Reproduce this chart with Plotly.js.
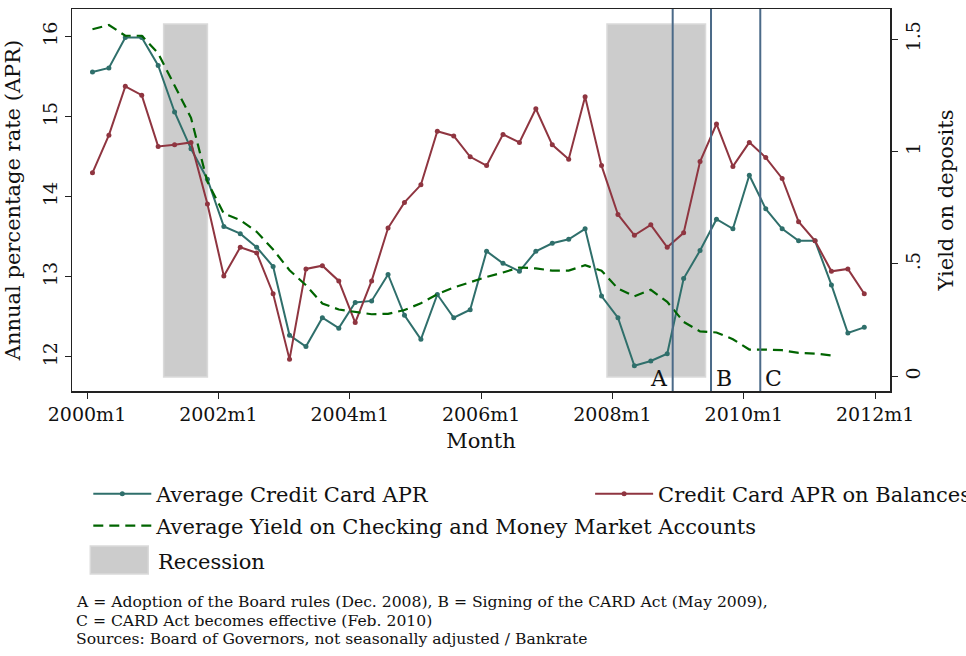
<!DOCTYPE html>
<html>
<head>
<meta charset="utf-8">
<script src="https://cdn.plot.ly/plotly-3.0.1.min.js"></script>
<style>html,body{margin:0;padding:0;background:#fff;}#chart{width:966px;height:656px;}</style>
</head>
<body>
<div id="chart"></div>
<script>
// Month index: 0 = 2000m1
const months = [1,4,7,10,13,16,19,22,25,28,31,34,37,40,43,46,49,52,55,58,61,64,67,70,73,76,79,82,85,88,91,94,97,100,103,106,109,112,115,118,121,124,127,130,133,136,139,142];
const avgAPR = [15.56,15.61,15.99,15.99,15.64,15.06,14.60,14.22,13.63,13.54,13.37,13.13,12.27,12.13,12.49,12.36,12.68,12.70,13.03,12.52,12.22,12.78,12.49,12.59,13.32,13.17,13.07,13.32,13.42,13.47,13.60,12.76,12.49,11.89,11.95,12.04,12.98,13.33,13.72,13.60,14.27,13.85,13.60,13.45,13.45,12.90,12.30,12.37];
const balAPR = [14.30,14.77,15.38,15.27,14.63,14.65,14.68,13.91,13.01,13.37,13.30,12.79,11.97,13.10,13.14,12.95,12.43,12.95,13.61,13.93,14.15,14.82,14.76,14.50,14.39,14.78,14.68,15.10,14.65,14.47,15.25,14.39,13.78,13.52,13.65,13.37,13.55,14.44,14.91,14.38,14.68,14.49,14.23,13.69,13.45,13.07,13.10,12.79];
const yieldMonths = [1,4,7,10,13,16,19,22,25,28,31,34,37,40,43,46,49,52,55,58,61,64,67,70,73,76,79,82,85,88,91,94,97,100,103,106,109,112,115,118,121,124,127,130,133,136];
const depYield = [1.544,1.563,1.515,1.515,1.437,1.29,1.15,0.865,0.724,0.695,0.643,0.564,0.472,0.405,0.324,0.297,0.286,0.276,0.278,0.295,0.325,0.365,0.395,0.419,0.442,0.462,0.484,0.480,0.470,0.470,0.494,0.470,0.390,0.356,0.385,0.331,0.242,0.200,0.195,0.165,0.119,0.119,0.116,0.104,0.101,0.093];
const recessionStart = [14, 95];
const recessionEnd = [22, 113];
const eventMonths = [107, 114, 123];
const eventLabels = ['A', 'B', 'C'];
const xTickVals = [0, 24, 48, 72, 96, 120, 144];
const xTickText = ['2000m1','2002m1','2004m1','2006m1','2008m1','2010m1','2012m1'];
const seriesNames = ['Average Credit Card APR','Credit Card APR on Balances','Average Yield on Checking and Money Market Accounts','Recession'];
const noteLines = ['A = Adoption of the Board rules (Dec. 2008), B = Signing of the CARD Act (May 2009),',
  'C = CARD Act becomes effective (Feb. 2010)',
  'Sources: Board of Governors, not seasonally adjusted / Bankrate'];

const FONT = 'DejaVu Serif, serif';
const TEAL = '#2f6f6b', RED = '#8f3540', GREEN = '#006400', VLINE = '#4b6a88';
const PW = 818.3, PH = 382, PL = 71.7, PB = 391;
const px = v => (v - PL) / PW;
const py = v => (PB - v) / PH;

const traces = [
  {x: months, y: avgAPR, name: seriesNames[0], type: 'scatter', mode: 'lines+markers',
   line: {color: TEAL, width: 2}, marker: {color: TEAL, size: 5}, legend: 'legend'},
  {x: months, y: balAPR, name: seriesNames[1], type: 'scatter', mode: 'lines+markers',
   line: {color: RED, width: 2}, marker: {color: RED, size: 5}, legend: 'legend2'},
  {x: yieldMonths, y: depYield, name: seriesNames[2], type: 'scatter', mode: 'lines', yaxis: 'y2',
   line: {color: GREEN, width: 2.2, dash: '10px,6px'}, legend: 'legend3'}
];

const shapes = [];
for (let i = 0; i < recessionStart.length; i++) {
  shapes.push({type: 'rect', xref: 'x', yref: 'y', x0: recessionStart[i], x1: recessionEnd[i], y0: 11.75, y1: 16.16,
    fillcolor: '#cccccc', line: {color: '#dadada', width: 1.5}, layer: 'below'});
}
eventMonths.forEach(m => shapes.push({type: 'line', xref: 'x', yref: 'paper', x0: m, x1: m, y0: 0, y1: 1,
  line: {color: VLINE, width: 2}}));
// recession legend swatch
shapes.push({type: 'rect', xref: 'paper', yref: 'paper', x0: px(90), x1: px(148),
  y0: py(574), y1: py(546), fillcolor: '#cccccc', line: {color: '#dadada', width: 1.5}});

const annotations = [];
eventLabels.forEach((t, i) => annotations.push({text: t, x: eventMonths[i], xref: 'x', y: py(378), yref: 'paper',
  xanchor: i === 0 ? 'right' : 'left', xshift: i === 0 ? -3 : 3, yanchor: 'middle', showarrow: false,
  font: {family: FONT, size: 22, color: '#111'}}));
annotations.push({text: seriesNames[3], xref: 'paper', yref: 'paper', x: px(156), y: py(562),
  xanchor: 'left', yanchor: 'middle', showarrow: false, font: {family: FONT, size: 21, color: '#111'}});
const noteY = [602, 620.5, 639];
noteLines.forEach((t, i) => annotations.push({text: t, xref: 'paper', yref: 'paper', x: px(74), y: py(noteY[i]),
  xanchor: 'left', yanchor: 'middle', align: 'left', showarrow: false, font: {family: FONT, size: 15.6, color: '#111'}}));

const legBase = {font: {family: FONT, size: 21, color: '#111'}, bgcolor: 'rgba(0,0,0,0)', itemwidth: 58,
  xanchor: 'left', yanchor: 'middle', xref: 'paper', yref: 'paper'};

const layout = {
  width: 966, height: 656,
  margin: {l: 72, r: 76, t: 9, b: 265, autoexpand: false},
  paper_bgcolor: '#fff', plot_bgcolor: '#fff',
  font: {family: FONT, color: '#111'},
  xaxis: {range: [-2.74, 146.7], tickvals: xTickVals, ticktext: xTickText, showgrid: false, zeroline: false,
    showline: true, mirror: true, linecolor: '#222', linewidth: 1.5, ticks: 'outside', ticklen: 6, tickcolor: '#222',
    tickfont: {family: FONT, size: 19, color: '#111'}, automargin: false,
    title: {text: 'Month', font: {family: FONT, size: 21, color: '#111'}, standoff: 9}},
  yaxis: {range: [11.575, 16.346], tickvals: [12,13,14,15,16], showgrid: false, zeroline: false, automargin: false,
    showline: true, linecolor: '#222', linewidth: 1.5, ticks: 'outside', ticklen: 6, tickcolor: '#222', tickangle: -90,
    tickfont: {family: FONT, size: 19, color: '#111'},
    title: {text: 'Annual percentage rate (APR)', font: {family: FONT, size: 21, color: '#111'}}},
  yaxis2: {overlaying: 'y', side: 'right', range: [-0.0654, 1.634], tickvals: [0,0.5,1,1.5], ticktext: ['0','.5','1','1.5'],
    showgrid: false, zeroline: false, showline: true, linecolor: '#222', linewidth: 1.5, ticks: 'outside', ticklen: 6,
    tickcolor: '#222', tickangle: -90, tickfont: {family: FONT, size: 19, color: '#111'}, automargin: false,
    title: {text: 'Yield on deposits', font: {family: FONT, size: 21, color: '#111'}}},
  showlegend: true,
  legend: Object.assign({}, legBase, {x: px(88), y: py(494)}),
  legend2: Object.assign({}, legBase, {x: px(590), y: py(494)}),
  legend3: Object.assign({}, legBase, {x: px(88), y: py(526)}),
  shapes: shapes,
  annotations: annotations
};

Plotly.newPlot('chart', traces, layout, {staticPlot: true, displayModeBar: false});
</script>
</body>
</html>
